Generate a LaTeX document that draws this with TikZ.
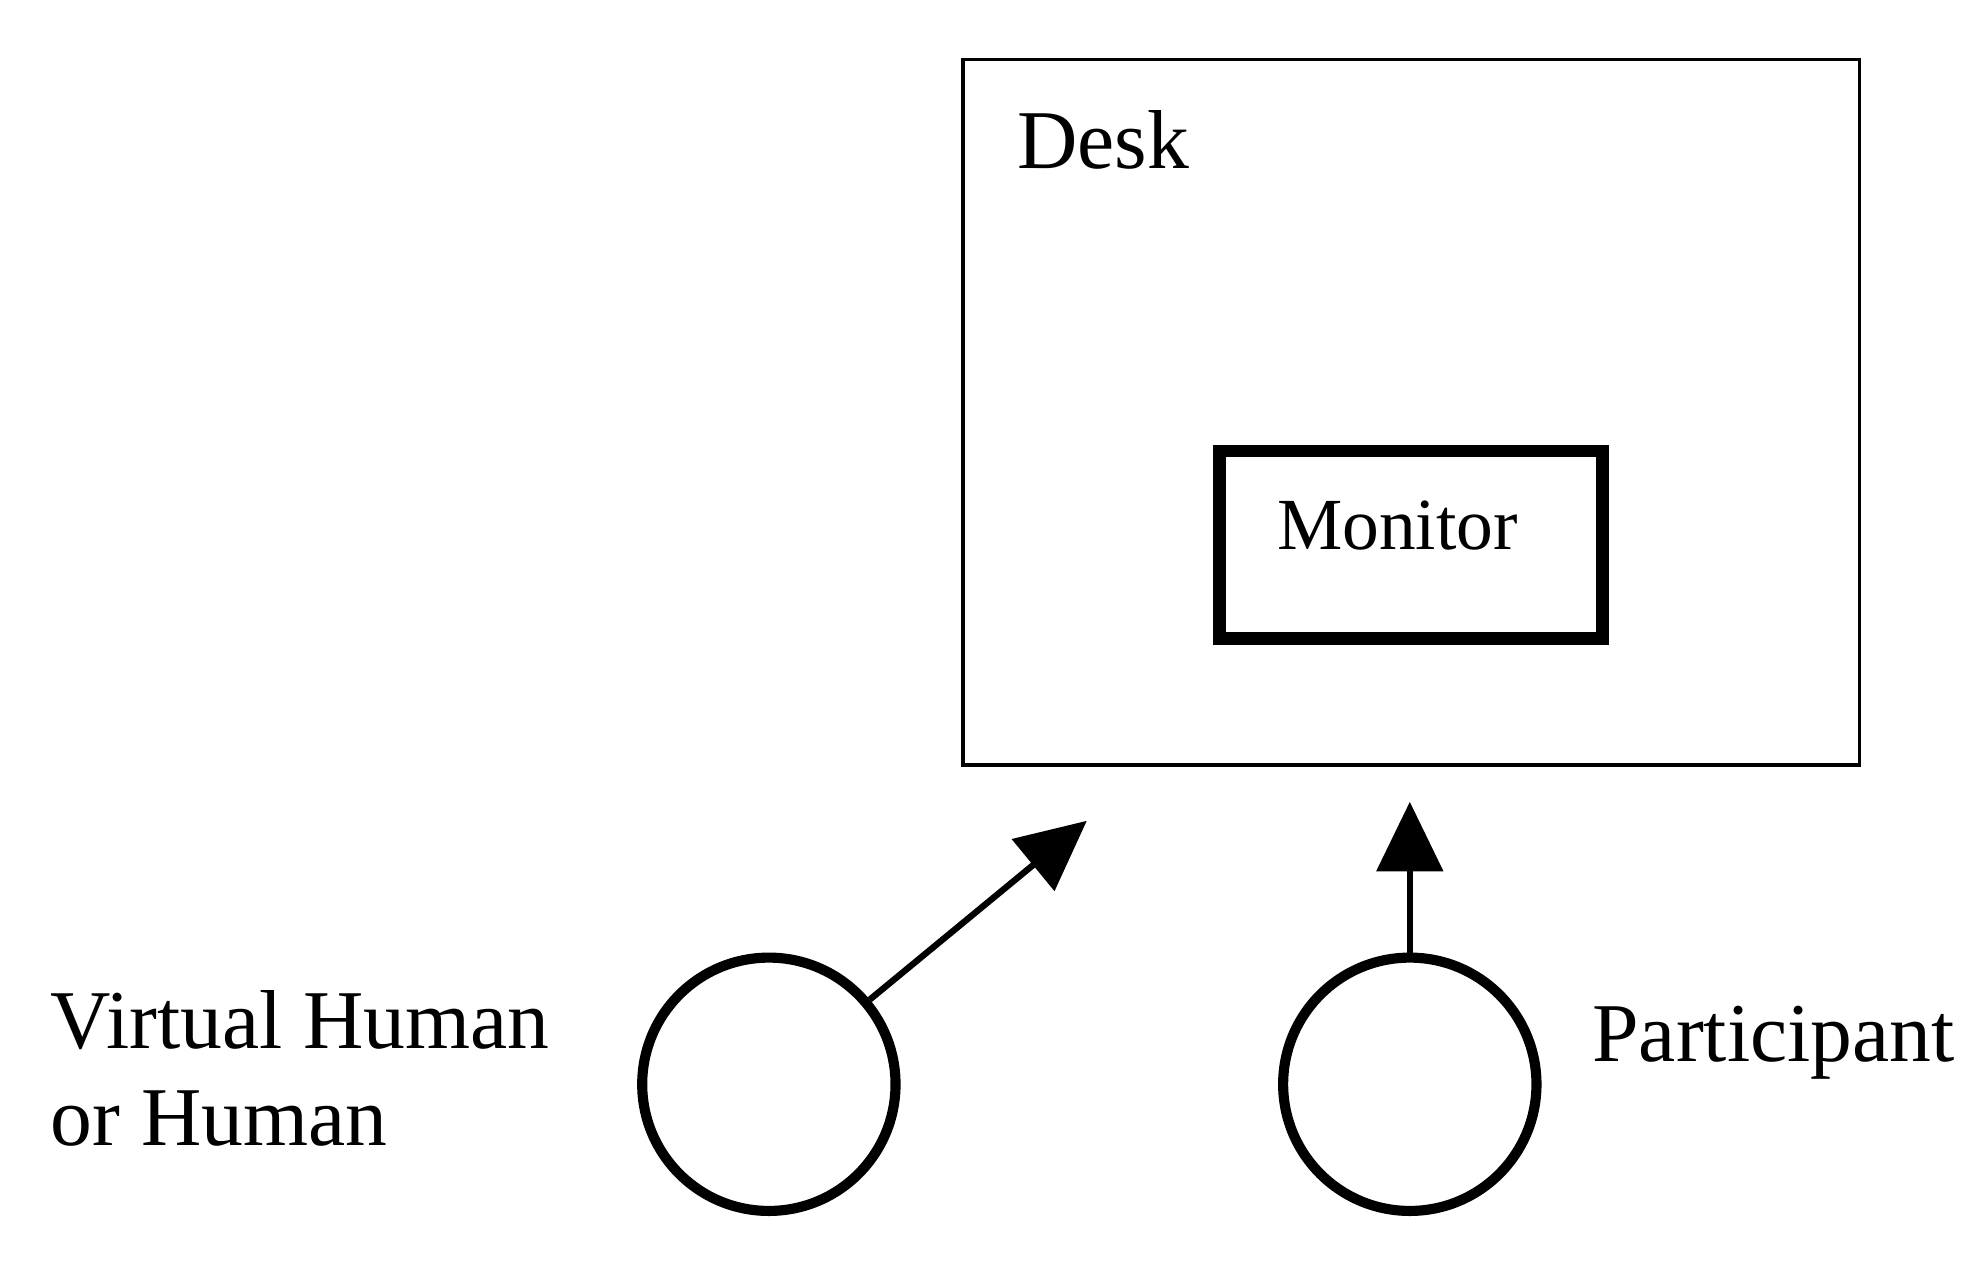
\documentclass[tikz,border=0pt]{standalone}
\usepackage{fontspec}
\setmainfont{Liberation Serif}
\usetikzlibrary{arrows.meta}
\begin{document}
\begin{tikzpicture}[x=1pt,y=-1pt,
  person/.style={circle,draw,line width=8pt,minimum size=200pt,inner sep=0},
  lbl/.style={anchor=base west,inner sep=0,font=\fontsize{66}{76}\selectfont},
  arr/.style={line width=5pt,-{Triangle[length=55pt,width=52pt]}}]
\useasboundingbox (0,0) rectangle (1560,998);
\node[draw,line width=3pt,minimum width=708pt,minimum height=557pt,inner sep=0] (desk) at (1114,325.5) {};
\node[lbl] (desklbl) at (803,133) {Desk};
\node[draw,line width=10pt,minimum width=302pt,minimum height=148pt,inner sep=0] (mon) at (1114,430) {};
\node[lbl,font=\fontsize{58}{68}\selectfont] (monlbl) at (1008,434) {Monitor};
\node[person] (vh) at (607,856) {};
\node[person] (p) at (1113,856) {};
\node[lbl,align=left,anchor=north west] (vhlbl) at (40,782) {Virtual Human\\or Human};
\node[lbl] (plbl) at (1257,838) {Participant};
\coordinate (a1) at (858,648);
\coordinate (a2) at (1113,633);
\draw[arr] (vh.40) -- (a1);
\draw[arr] (p.north) -- (a2);
\end{tikzpicture}
\end{document}
